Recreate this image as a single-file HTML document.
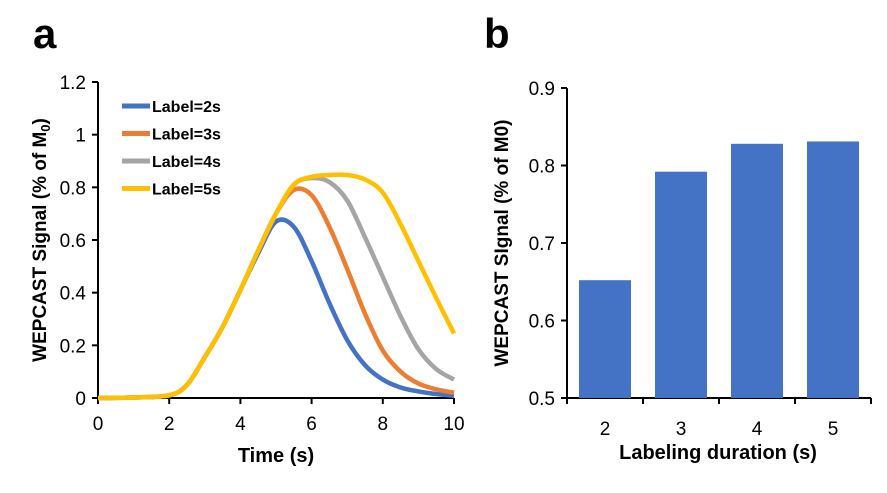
<!DOCTYPE html>
<html><head><meta charset="utf-8"><style>
body{margin:0;background:#fff;font-family:"Liberation Sans",sans-serif}
text{font-family:"Liberation Sans",sans-serif}
</style></head><body>
<svg id="c" width="887" height="488" xmlns="http://www.w3.org/2000/svg">
<text x="33" y="48" font-size="42" font-weight="bold">a</text>
<text x="484" y="48" font-size="42" font-weight="bold">b</text>
<g id="left"></g>
<g id="right"></g>
</svg>
<script>
const ns="http://www.w3.org/2000/svg";
const times=[0,1,2,2.5,3,3.5,4,4.5,5,5.5,6,6.5,7,7.5,8,8.5,9,9.5,10];
const label2=[0,0.002,0.01,0.05,0.155,0.27,0.41,0.55,0.67,0.65,0.52,0.36,0.22,0.125,0.07,0.04,0.025,0.015,0.008];
const label3=[0,0.002,0.01,0.05,0.155,0.27,0.41,0.56,0.7,0.79,0.77,0.65,0.49,0.32,0.18,0.1,0.055,0.033,0.02];
const label4=[0,0.002,0.01,0.05,0.155,0.27,0.41,0.56,0.7,0.81,0.835,0.82,0.75,0.61,0.46,0.31,0.185,0.11,0.07];
const label5=[0,0.002,0.01,0.05,0.155,0.27,0.41,0.56,0.7,0.81,0.84,0.847,0.847,0.83,0.78,0.66,0.52,0.38,0.245];
const seriesNames=["Label=2s","Label=3s","Label=4s","Label=5s"];
const seriesColors=["#4472C4","#ED7D31","#A5A5A5","#FFC000"];
const xTicks=["0","2","4","6","8","10"];
const yTicksL=["0","0.2","0.4","0.6","0.8","1","1.2"];
const barCats=["2","3","4","5"];
const barVals=[0.652,0.792,0.828,0.831];
const yTicksR=["0.5","0.6","0.7","0.8","0.9"];

function mk(p,tag,a,name,txt){const e=document.createElementNS(ns,tag);for(const k in a)e.setAttribute(k,a[k]);


if(txt!==undefined)e.textContent=txt;p.appendChild(e);return e;}
const L=document.getElementById('left'),R=document.getElementById('right');
const xs=t=>98+t*(454-98)/10, ys=v=>398-v*(398-82)/1.2;
mk(L,'line',{x1:98,y1:82,x2:98,y2:398,stroke:'#000','stroke-width':2},'y-axis');
mk(L,'line',{x1:98,y1:398,x2:454,y2:398,stroke:'#000','stroke-width':2},'x-axis');
yTicksL.forEach(s=>{const y=ys(+s);mk(L,'line',{x1:92,y1:y,x2:98,y2:y,stroke:'#000','stroke-width':2},'y-tick');
mk(L,'text',{x:86,y:y+7,'font-size':19,'text-anchor':'end'},'y-tick-label',s);});
xTicks.forEach(s=>{const x=xs(+s);mk(L,'line',{x1:x,y1:398,x2:x,y2:404,stroke:'#000','stroke-width':2},'x-tick');
mk(L,'text',{x:x,y:430,'font-size':19,'text-anchor':'middle'},'x-tick-label',s);});
mk(L,'text',{x:276,y:462,'font-size':20,'font-weight':'bold','text-anchor':'middle'},'x-axis-title','Time (s)');
const yt=mk(L,'text',{x:0,y:0,'font-size':19,'font-weight':'bold','text-anchor':'middle',transform:'translate(46,240) rotate(-90)'},'y-axis-title','WEPCAST Signal (% of M');
const sub=document.createElementNS(ns,'tspan');sub.setAttribute('font-size',13);sub.setAttribute('dy',4);sub.textContent='0';yt.appendChild(sub);
const cl=document.createElementNS(ns,'tspan');cl.setAttribute('dy',-4);cl.textContent=')';yt.appendChild(cl);
function path(vals){const p=times.map((t,i)=>[xs(t),ys(vals[i])]);let d='M'+p[0][0]+','+p[0][1];
for(let i=0;i<p.length-1;i++){const p0=p[Math.max(0,i-1)],p1=p[i],p2=p[i+1],p3=p[Math.min(p.length-1,i+2)];
d+=' C'+(p1[0]+(p2[0]-p0[0])/6)+','+(p1[1]+(p2[1]-p0[1])/6)+' '+(p2[0]-(p3[0]-p1[0])/6)+','+(p2[1]-(p3[1]-p1[1])/6)+' '+p2[0]+','+p2[1];}return d;}
[label2,label3,label4,label5].forEach((v,i)=>{
mk(L,'path',{d:path(v),fill:'none',stroke:seriesColors[i],'stroke-width':4.5},'series-line-'+(i+2)+'s');
const ly=106+i*27.5;
mk(L,'line',{x1:122,y1:ly,x2:150,y2:ly,stroke:seriesColors[i],'stroke-width':5},'legend-swatch');
mk(L,'text',{x:152,y:ly+6,'font-size':16,'font-weight':'bold'},'legend-entry',seriesNames[i]);});
const yr=v=>398-(v-0.5)*(398-88)/0.4;
const cx=i=>605+i*76;
mk(R,'line',{x1:567,y1:88,x2:567,y2:398,stroke:'#000','stroke-width':2},'y-axis');
mk(R,'line',{x1:567,y1:398,x2:871,y2:398,stroke:'#000','stroke-width':2},'x-axis');
yTicksR.forEach(s=>{const y=yr(+s);mk(R,'line',{x1:561,y1:y,x2:567,y2:y,stroke:'#000','stroke-width':2},'y-tick');
mk(R,'text',{x:555,y:y+7,'font-size':19,'text-anchor':'end'},'y-tick-label',s);});
barCats.forEach((c,i)=>{const x=cx(i);
mk(R,'rect',{x:x-26,y:yr(barVals[i]),width:52,height:398-yr(barVals[i]),fill:'#4472C4'},'bar-'+c);
mk(R,'text',{x:x,y:435,'font-size':19,'text-anchor':'middle'},'x-tick-label',c);});
[567,643,719,795,871].forEach(x=>mk(R,'line',{x1:x,y1:398,x2:x,y2:404,stroke:'#000','stroke-width':2},'x-tick'));
mk(R,'text',{x:718,y:459,'font-size':20,'font-weight':'bold','text-anchor':'middle'},'x-axis-title','Labeling duration (s)');
mk(R,'text',{x:0,y:0,'font-size':19,'font-weight':'bold','text-anchor':'middle',transform:'translate(508,243) rotate(-90)'},'y-axis-title','WEPCAST SIgnal (% of M0)');
</script>
</body></html>
